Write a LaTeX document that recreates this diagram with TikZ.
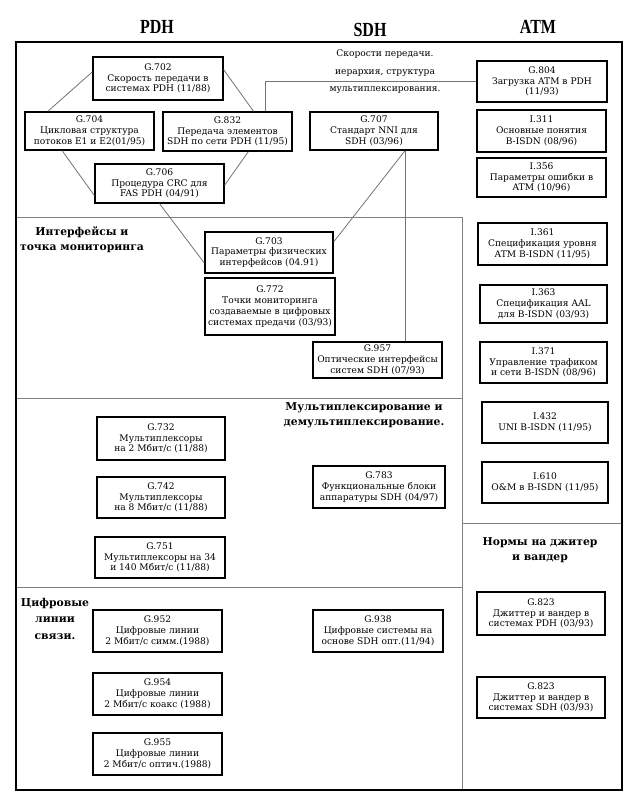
\documentclass[tikz,border=0pt]{standalone}
\usepackage{fontspec}
\setmainfont{DejaVu Serif}
\newfontfamily\hdrfont{Liberation Serif}
\usetikzlibrary{calc}
\begin{document}
\begin{tikzpicture}[x=1pt,y=-1pt,
  box/.style={draw=black, line width=1.3pt, fill=white, minimum width=129pt,
    minimum height=40pt, align=center, inner sep=1pt,
    font=\fontsize{9.1}{10.8}\selectfont},
  thickbox/.style={box, line width=2.4pt},
  conn/.style={draw=black!55, line width=0.8pt},
  sect/.style={draw=black!50, line width=0.9pt},
  sectitle/.style={font=\bfseries\fontsize{10.8}{15}\selectfont, align=center},
  hdr/.style={font=\hdrfont\bfseries\fontsize{20}{22}\selectfont},
  toptitle/.style={font=\fontsize{9.1}{17.5}\selectfont, align=center}
]
\useasboundingbox (0,0) rectangle (641,802);
\fill[white] (0,0) rectangle (641,802);

% headers
\node[hdr] (hpdh) at (157,27) {\scalebox{0.8}[1]{PDH}};
\node[hdr] (hsdh) at (370,30) {\scalebox{0.8}[1]{SDH}};
\node[hdr] (hatm) at (538,27) {\scalebox{0.8}[1]{ATM}};

% section lines
\draw[sect] (16,217) -- (462,217);
\draw[sect] (16,398) -- (462,398);
\draw[sect] (16,587) -- (462,587);
\draw[sect] (462,217) -- (462,790);
\draw[sect] (462,523) -- (622,523);

% section titles
\node[toptitle] (ttop) at (385,72) {Скорости передачи.\\иерархия, структура\\мультиплексирования.};
\node[sectitle] (tint) at (82,239.5) {Интерфейсы и\\точка мониторинга};
\node[sectitle] (tmux) at (364,415) {Мультиплексирование и\\демультиплексирование.};
\node[sectitle] (tjit) at (540,550) {Нормы на джитер\\и вандер};
\node[sectitle, font=\bfseries\fontsize{10.8}{16.5}\selectfont] (tdig) at (55,618.5) {Цифровые\\линии\\связи.};

% boxes - top
\node[box, minimum width=130pt, minimum height=43pt] (g702) at (158,78.5) {G.702\\Скорость передачи в\\системах PDH (11/88)};
\node[box, minimum width=130pt, minimum height=41pt] (g804) at (542,81.5) {G.804\\Загрузка ATM в PDH\\(11/93)};
\node[box, minimum height=38pt] (g704) at (89.5,131) {G.704\\Цикловая структура\\потоков E1 и E2(01/95)};
\node[box, minimum height=39pt] (g832) at (227.5,131.5) {G.832\\Передача элементов\\SDH по сети PDH (11/95)};
\node[box, minimum width=128pt, minimum height=38pt] (g707) at (374,131) {G.707\\Стандарт NNI для\\SDH (03/96)};
\node[box, minimum height=42pt] (i311) at (541.5,131) {I.311\\Основные понятия\\B-ISDN (08/96)};
\node[box, minimum height=39pt] (g706) at (159.5,183.5) {G.706\\Процедура CRC для\\FAS PDH (04/91)};
\node[box, minimum height=39pt] (i356) at (541.5,177.5) {I.356\\Параметры ошибки в\\ATM (10/96)};

% interfaces
\node[box, minimum width=128pt, minimum height=41pt] (g703) at (269,252.5) {G.703\\Параметры физических\\интерфейсов (04.91)};
\node[thickbox, minimum width=130pt, minimum height=57pt] (g772) at (270,306.5) {G.772\\Точки мониторинга\\создаваемые в цифровых\\системах предачи (03/93)};
\node[box, minimum height=36pt] (g957) at (377.5,360) {G.957\\Оптические интерфейсы\\систем SDH (07/93)};

% ATM column
\node[box, minimum height=42pt] (i361) at (542.5,244) {I.361\\Спецификация уровня\\ATM B-ISDN (11/95)};
\node[box, minimum width=127pt, minimum height=38pt] (i363) at (543.5,304) {I.363\\Спецификация AAL\\для B-ISDN (03/93)};
\node[box, minimum width=127pt, minimum height=41pt] (i371) at (543.5,362.5) {I.371\\Управление трафиком\\и сети B-ISDN (08/96)};
\node[box, minimum width=126pt, minimum height=41pt] (i432) at (545,422.5) {I.432\\UNI B-ISDN (11/95)};
\node[box, minimum width=126pt, minimum height=41pt] (i610) at (545,482.5) {I.610\\O\&M в B-ISDN (11/95)};

% multiplexing
\node[box, minimum width=128pt, minimum height=43pt] (g732) at (161,438.5) {G.732\\Мультиплексоры\\на 2 Мбит/с (11/88)};
\node[box, minimum width=128pt, minimum height=41pt] (g742) at (161,497.5) {G.742\\Мультиплексоры\\на 8 Мбит/с (11/88)};
\node[box, minimum width=130pt, minimum height=41pt] (g751) at (160,557.5) {G.751\\Мультиплексоры на 34\\и 140 Мбит/с (11/88)};
\node[box, minimum width=132pt, minimum height=42pt] (g783) at (379,487) {G.783\\Функциональные блоки\\аппаратуры SDH (04/97)};

% digital lines
\node[box, minimum height=42pt] (g952) at (157.5,631) {G.952\\Цифровые линии\\2 Мбит/с симм.(1988)};
\node[box, minimum height=42pt] (g954) at (157.5,694) {G.954\\Цифровые линии\\2 Мбит/с коакс (1988)};
\node[box, minimum height=42pt] (g955) at (157.5,754) {G.955\\Цифровые линии\\2 Мбит/с оптич.(1988)};
\node[box, minimum width=130pt, minimum height=42pt] (g938) at (378,631) {G.938\\Цифровые системы на\\основе SDH опт.(11/94)};

% jitter
\node[box, minimum width=128pt, minimum height=43pt] (g823a) at (541,613.5) {G.823\\Джиттер и вандер в\\системах PDH (03/93)};
\node[box, minimum width=128pt, minimum height=41pt] (g823b) at (541,697.5) {G.823\\Джиттер и вандер в\\системах SDH (03/93)};

% connectors
\draw[conn] ($(g702.north west)!0.35!(g702.south west)$) -- ($(g704.north west)!0.18!(g704.north east)$);
\draw[conn] ($(g702.north east)!0.3!(g702.south east)$) -- ($(g832.north west)!0.7!(g832.north east)$);
\draw[conn] ($(g704.south west)!0.29!(g704.south east)$) -- ($(g706.north west)!0.8!(g706.south west)$);
\draw[conn] ($(g832.south west)!0.66!(g832.south east)$) -- ($(g706.north east)!0.54!(g706.south east)$);
\draw[conn] (g706.south) -- ($(g703.north west)!0.75!(g703.south west)$);
\draw[conn] ($(g707.south west)!0.74!(g707.south east)$) -- ($(g703.north east)!0.25!(g703.south east)$);
\coordinate (p707) at ($(g707.south west)!0.74!(g707.south east)$);
\draw[conn] (p707) -- (p707 |- g957.north);
\draw[conn] ($(g832.north west)!0.79!(g832.north east)$) |- (g804.west);

% frame
\draw[line width=2.6pt] (16,42) rectangle (622,790);
\end{tikzpicture}
\end{document}
